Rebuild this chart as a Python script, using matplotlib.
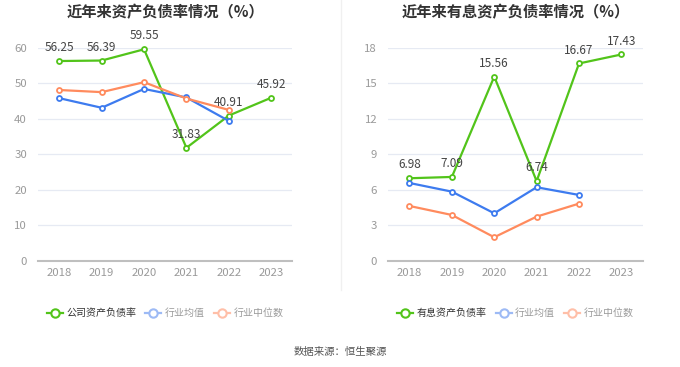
"""Two side-by-side line charts: asset-liability ratios, recent years."""

import matplotlib
matplotlib.use("Agg")
import matplotlib.pyplot as plt
from matplotlib.lines import Line2D

plt.rcParams["font.family"] = ["Noto Sans CJK SC", "DejaVu Sans"]

GREEN = "#52C41A"
BLUE = "#3D7BEF"
ORANGE = "#FF8B5E"
BLUE_LIGHT = "#9DBAF5"
ORANGE_LIGHT = "#FFBFA8"
GRID_COLOR = "#E6EAF3"
TICK_COLOR = "#9A9A9A"
TEXT_COLOR = "#333333"

years = ["2018", "2019", "2020", "2021", "2022", "2023"]

# left chart: 资产负债率
company_debt = [56.25, 56.39, 59.55, 31.83, 40.91, 45.92]
industry_avg = [45.8, 43.1, 48.4, 46.0, 39.4]
industry_median = [48.1, 47.5, 50.3, 45.7, 42.5]

# right chart: 有息资产负债率
company_interest = [6.98, 7.09, 15.56, 6.74, 16.67, 17.43]
industry_avg_interest = [6.58, 5.85, 4.02, 6.22, 5.57]
industry_median_interest = [4.64, 3.88, 2.0, 3.74, 4.84]


def _line(ax, x, y, color, z):
    ax.plot(x, y, color=color, linewidth=1.6, marker="o", markersize=3.6,
            markerfacecolor="white", markeredgecolor=color, markeredgewidth=1.3,
            zorder=z, clip_on=False)


def draw_panel(ax, title, main, avg, median, ymax, step, main_label):
    x = list(range(len(years)))
    _line(ax, x, main, GREEN, 3)
    _line(ax, x[:len(avg)], avg, BLUE, 4)
    _line(ax, x[:len(median)], median, ORANGE, 5)
    for xi, v in zip(x, main):
        ax.annotate(f"{v:.2f}", (xi, v), xytext=(0, 5), textcoords="offset points",
                    ha="center", va="bottom", fontsize=8.5, color="#444444", zorder=6)

    ax.set_xlim(-0.5, len(years) - 0.5)
    ax.set_ylim(0, ymax)
    ax.set_yticks(range(0, ymax + 1, step))
    ax.set_xticks(x)
    ax.set_xticklabels(years)
    ax.tick_params(axis="both", length=0, labelsize=8.2, labelcolor=TICK_COLOR)
    ax.tick_params(axis="y", pad=8)
    ax.tick_params(axis="x", pad=5)
    ax.grid(axis="y", color=GRID_COLOR, linewidth=0.9)
    ax.set_axisbelow(True)
    for side in ("top", "right", "left"):
        ax.spines[side].set_visible(False)
    ax.spines["bottom"].set_color("#BFBFBF")
    ax.spines["bottom"].set_linewidth(1.5)
    ax.set_title(title, fontsize=11, fontweight="bold", color=TEXT_COLOR, pad=22)

    handles = [
        Line2D([], [], color=GREEN, linewidth=1.6, marker="o", markersize=6,
               markerfacecolor="white", markeredgewidth=1.5),
        Line2D([], [], color=BLUE_LIGHT, linewidth=1.6, marker="o", markersize=6,
               markerfacecolor="white", markeredgewidth=1.5),
        Line2D([], [], color=ORANGE_LIGHT, linewidth=1.6, marker="o", markersize=6,
               markerfacecolor="white", markeredgewidth=1.5),
    ]
    leg = ax.legend(handles, [main_label, "行业均值", "行业中位数"], ncol=3,
                    loc="center", bbox_to_anchor=(0.5, -0.245), frameon=False,
                    fontsize=7.2, handlelength=1.6, handletextpad=0.35, columnspacing=0.9)
    colors = [TEXT_COLOR, TICK_COLOR, TICK_COLOR]
    for t, c in zip(leg.get_texts(), colors):
        t.set_color(c)


fig = plt.figure(figsize=(6.8, 3.67), dpi=100)
fig.patch.set_facecolor("white")

ax1 = fig.add_axes([0.056, 0.289, 0.374, 0.581])
ax2 = fig.add_axes([0.571, 0.289, 0.374, 0.581])

draw_panel(ax1, "近年来资产负债率情况（%）", company_debt, industry_avg,
           industry_median, 60, 10, "公司资产负债率")
draw_panel(ax2, "近年来有息资产负债率情况（%）", company_interest, industry_avg_interest,
           industry_median_interest, 18, 3, "有息资产负债率")

fig.add_artist(Line2D([0.502, 0.502], [0.21, 1.0], color="#F0F0F0", linewidth=1))
fig.text(0.5, 0.04, "数据来源：恒生聚源", ha="center", va="center", fontsize=7.5, color="#555555")

fig.savefig("out.png", dpi=100, facecolor="white")
